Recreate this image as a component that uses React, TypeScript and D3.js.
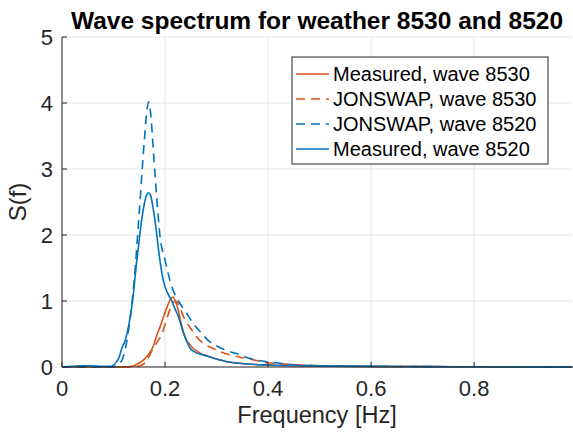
import React from "react";
import * as d3 from "d3";

const W = 573;
const H = 434;
const M = { left: 62, right: 572, top: 37, bottom: 367 };

const xTicks = [0, 0.2, 0.4, 0.6, 0.8];
const xTickLabels = ["0", "0.2", "0.4", "0.6", "0.8"];
const yTicks = [0, 1, 2, 3, 4, 5];
const yTickLabels = ["0", "1", "2", "3", "4", "5"];

// Measured, wave 8530
const meas8530F = [0, 0.1, 0.12, 0.138, 0.15, 0.16, 0.168, 0.177, 0.184, 0.19, 0.197, 0.205, 0.21, 0.215, 0.22, 0.225, 0.229, 0.234, 0.239, 0.247, 0.255, 0.268, 0.281, 0.3, 0.32, 0.34, 0.36, 0.4, 0.45, 0.5, 0.6, 0.7, 0.8, 0.9, 0.99];
const meas8530S = [0, 0, 0.003, 0.015, 0.06, 0.12, 0.19, 0.31, 0.48, 0.6, 0.76, 0.93, 1.02, 1.06, 1.0, 0.88, 0.74, 0.58, 0.45, 0.35, 0.28, 0.21, 0.17, 0.12, 0.08, 0.06, 0.045, 0.03, 0.02, 0.015, 0.008, 0.005, 0.003, 0.002, 0.001];

// JONSWAP, wave 8530
const jons8530F = [0, 0.14, 0.155, 0.165, 0.174, 0.185, 0.194, 0.203, 0.21, 0.216, 0.221, 0.226, 0.231, 0.236, 0.244, 0.252, 0.261, 0.271, 0.285, 0.3, 0.318, 0.333, 0.35, 0.365, 0.397, 0.42, 0.45, 0.5, 0.6, 0.7, 0.8, 0.9, 0.99];
const jons8530S = [0, 0, 0.03, 0.1, 0.24, 0.38, 0.5, 0.72, 0.88, 0.98, 1.0, 0.95, 0.86, 0.76, 0.65, 0.56, 0.46, 0.38, 0.31, 0.26, 0.2, 0.17, 0.14, 0.12, 0.065, 0.05, 0.035, 0.02, 0.01, 0.006, 0.004, 0.003, 0.002];

// JONSWAP, wave 8520
const jons8520F = [0, 0.09, 0.1, 0.11, 0.12, 0.13, 0.14, 0.15, 0.16, 0.165, 0.168, 0.172, 0.178, 0.185, 0.19, 0.2, 0.213, 0.226, 0.24, 0.252, 0.27, 0.287, 0.305, 0.323, 0.34, 0.365, 0.397, 0.42, 0.456, 0.5, 0.6, 0.7, 0.8, 0.9, 0.99];
const jons8520S = [0, 0, 0.005, 0.04, 0.18, 0.6, 1.3, 2.35, 3.45, 3.9, 4.02, 3.85, 3.2, 2.45, 2.0, 1.62, 1.22, 1.0, 0.84, 0.69, 0.52, 0.38, 0.3, 0.24, 0.2, 0.13, 0.08, 0.06, 0.03, 0.02, 0.01, 0.006, 0.003, 0.002, 0.001];

// Measured, wave 8520
const meas8520F = [0, 0.02, 0.04, 0.06, 0.08, 0.095, 0.1, 0.105, 0.11, 0.116, 0.123, 0.13, 0.137, 0.145, 0.151, 0.156, 0.162, 0.165, 0.168, 0.172, 0.176, 0.18, 0.184, 0.19, 0.197, 0.205, 0.213, 0.22, 0.226, 0.236, 0.249, 0.262, 0.275, 0.287, 0.3, 0.32, 0.36, 0.4, 0.45, 0.5, 0.6, 0.7, 0.8, 0.9, 0.99];
const meas8520S = [0, 0.01, 0.02, 0.015, 0.01, 0.01, 0.03, 0.07, 0.13, 0.28, 0.41, 0.65, 1.0, 1.6, 2.0, 2.3, 2.55, 2.62, 2.64, 2.6, 2.45, 2.25, 2.0, 1.62, 1.3, 1.12, 1.0, 0.87, 0.76, 0.51, 0.28, 0.21, 0.18, 0.15, 0.12, 0.08, 0.045, 0.03, 0.02, 0.015, 0.01, 0.006, 0.004, 0.003, 0.002];

const ORANGE = "#D95319";
const BLUE = "#0072BD";
const AXIS = "#262626";
const GRID = "#e6e6e6";
const FONT = "'Liberation Sans', Arial, Helvetica, sans-serif";

const series = [
  { name: "Measured, wave 8530", f: meas8530F, s: meas8530S, color: ORANGE, dash: "" },
  { name: "JONSWAP, wave 8530", f: jons8530F, s: jons8530S, color: ORANGE, dash: "9,6" },
  { name: "JONSWAP, wave 8520", f: jons8520F, s: jons8520S, color: BLUE, dash: "9,6" },
  { name: "Measured, wave 8520", f: meas8520F, s: meas8520S, color: BLUE, dash: "" },
];

export default function App() {
  const x = d3.scaleLinear().domain([0, 0.99]).range([M.left, M.right]);
  const y = d3.scaleLinear().domain([0, 5]).range([M.bottom, M.top]);
  const line = d3
    .line<[number, number]>()
    .x((d) => x(d[0]))
    .y((d) => y(d[1]))
    .curve(d3.curveMonotoneX);

  const leg = { x: 292, y: 57, w: 256, h: 107 };

  return (
    <svg width={W} height={H} style={{ position: "absolute", left: 0, top: 0, background: "#fff" }} fontFamily={FONT}>
      <rect x={0} y={0} width={W} height={H} fill="#fff" />
      <defs>
        <clipPath id="clip">
          <rect x={M.left} y={M.top - 2} width={M.right - M.left + 2} height={M.bottom - M.top + 4} />
        </clipPath>
      </defs>
      {/* grid */}
      {xTicks.map((t) => (
        <line key={"gx" + t} x1={x(t)} x2={x(t)} y1={M.top} y2={M.bottom} stroke={GRID} strokeWidth={1} />
      ))}
      {yTicks.map((t) => (
        <line key={"gy" + t} x1={M.left} x2={M.right} y1={y(t)} y2={y(t)} stroke={GRID} strokeWidth={1} />
      ))}
      {/* series */}
      <g clipPath="url(#clip)">
        {series.map((sr) => (
          <path
            key={sr.name}
            d={line(sr.f.map((f, i) => [f, sr.s[i]] as [number, number])) || ""}
            fill="none"
            stroke={sr.color}
            strokeWidth={1.6}
            strokeDasharray={sr.dash || undefined}
          />
        ))}
      </g>
      {/* axes */}
      <line x1={M.left} x2={M.right + 1} y1={M.bottom} y2={M.bottom} stroke={AXIS} strokeWidth={1} />
      <line x1={M.left} x2={M.left} y1={M.top} y2={M.bottom} stroke={AXIS} strokeWidth={1} />
      {xTicks.map((t, i) => (
        <g key={"tx" + t}>
          <line x1={x(t)} x2={x(t)} y1={M.bottom} y2={M.bottom - 5} stroke={AXIS} />
          <text x={x(t)} y={396} textAnchor="middle" fontSize={22} fill={AXIS}>
            {xTickLabels[i]}
          </text>
        </g>
      ))}
      {yTicks.map((t, i) => (
        <g key={"ty" + t}>
          <line x1={M.left} x2={M.left + 5} y1={y(t)} y2={y(t)} stroke={AXIS} />
          <text x={53} y={y(t) + 8} textAnchor="end" fontSize={22} fill={AXIS}>
            {yTickLabels[i]}
          </text>
        </g>
      ))}
      {/* labels */}
      <text x={(M.left + M.right) / 2} y={29} textAnchor="middle" fontSize={24.5} fontWeight="bold" fill="#000">
        Wave spectrum for weather 8530 and 8520
      </text>
      <text x={(M.left + M.right) / 2} y={423} textAnchor="middle" fontSize={23.5} fill={AXIS}>
        Frequency [Hz]
      </text>
      <text transform={`translate(26, ${(M.top + M.bottom) / 2}) rotate(-90)`} textAnchor="middle" fontSize={24} fill={AXIS}>
        S(f)
      </text>
      {/* legend */}
      <rect x={leg.x} y={leg.y} width={leg.w} height={leg.h} fill="#fff" stroke="#262626" strokeWidth={1} />
      {series.map((sr, i) => {
        const ly = 74 + i * 25;
        return (
          <g key={"lg" + i}>
            <line x1={296} x2={329} y1={ly} y2={ly} stroke={sr.color} strokeWidth={1.6} strokeDasharray={sr.dash || undefined} />
            <text x={333} y={ly + 7} fontSize={20} fill="#000">
              {sr.name}
            </text>
          </g>
        );
      })}
    </svg>
  );
}
